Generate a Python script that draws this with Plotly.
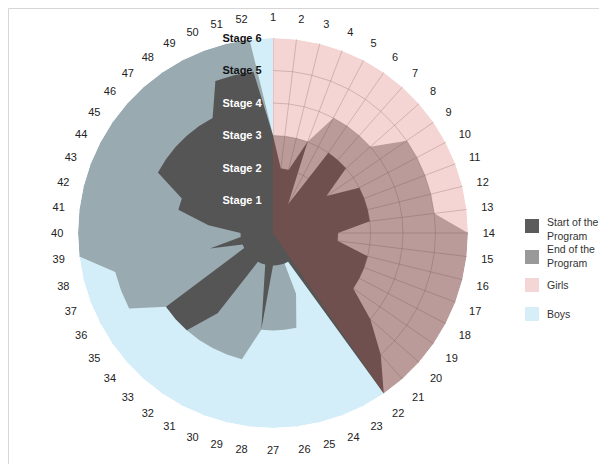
import plotly.graph_objects as go

categories = [str(i) for i in range(1, 53)]

# Stage reached by each participant (1..52)
start_program = [3, 2, 2, 3, 1, 3, 3, 3, 2, 3, 3, 3, 3, 2, 2, 3, 3, 3, 3, 4,
                 5, 6, 1, 1, 1, 1, 1, 3, 1, 1, 1, 3, 4, 4, 4, 1, 1, 2, 1, 1,
                 2, 3, 3, 4, 4, 4, 4, 4, 4, 5, 5, 5]
end_program = [3, 3, 3, 3, 4, 4, 4, 4, 5, 5, 5, 5, 5, 6, 6, 6, 6, 6, 6, 6,
               6, 6, 0, 2, 3, 3, 3, 3, 4, 4, 4, 4, 4, 4, 4, 5, 5, 5, 6, 6,
               6, 6, 6, 6, 6, 6, 6, 6, 6, 6, 6, 6]
girls = [6, 6, 6, 6, 6, 6, 6, 6, 6, 6, 6, 6, 6, 6, 6, 6, 6, 6, 6, 6,
         6, 6, 0, 0, 0, 0, 0, 0, 0, 0, 0, 0, 0, 0, 0, 0, 0, 0, 0, 0,
         0, 0, 0, 0, 0, 0, 0, 0, 0, 0, 0, 0]
boys = [6, 0, 0, 0, 0, 0, 0, 0, 0, 0, 0, 0, 0, 0, 0, 0, 0, 0, 0, 0,
        0, 6, 6, 6, 6, 6, 6, 6, 6, 6, 6, 6, 6, 6, 6, 6, 6, 6, 6, 6,
        6, 6, 6, 6, 6, 6, 6, 6, 6, 6, 6, 6]

stage_vals = [1, 2, 3, 4, 5, 6]
stage_text = ["<b>Stage 1</b>", "<b>Stage 2</b>", "<b>Stage 3</b>",
              "<b>Stage 4</b>", "<b>Stage 5</b>", "<b>Stage 6</b>"]
stage_colors = ["white", "white", "white", "white", "#111111", "#111111"]
stage_labels = ['<span style="color:%s">%s</span>' % (c, t) for c, t in zip(stage_colors, stage_text)]

legend_names = ["Start of the<br>Program", "End of the<br>Program", "Girls", "Boys"]
legend_colors = ["#5b5b5b", "#999999", "#f5d6d6", "#d5eef8"]

fig = go.Figure()
fig.add_trace(go.Scatterpolar(r=boys, theta=categories, fill="toself", mode="none", name="Boys",
                              fillcolor="#d3eef8", showlegend=False, hoverinfo="skip"))
fig.add_trace(go.Scatterpolar(r=end_program, theta=categories, fill="toself", mode="none",
                              name="End of the Program",
                              fillcolor="rgba(61,61,61,0.38)", showlegend=False, hoverinfo="skip"))
fig.add_trace(go.Scatterpolar(r=start_program, theta=categories, fill="toself", mode="none",
                              name="Start of the Program",
                              fillcolor="#555555", showlegend=False, hoverinfo="skip"))
fig.add_trace(go.Scatterpolar(r=girls, theta=categories, fill="toself", mode="none", name="Girls",
                              fillcolor="rgba(205,64,55,0.22)", showlegend=False, hoverinfo="skip"))

# Legend drawn as swatches + text (kept inside the right margin)
PX_L, PX_T, PW = 70, 30, 390


def px_x(v):
    return (v - PX_L) / PW


def px_y(v):
    return (PX_T + PW - v) / PW


sw_top = [211, 242, 270, 299]
txt_mid = [220.5, 248, 277, 306]
shapes = []
annotations = []
for name, col, t, m in zip(legend_names, legend_colors, sw_top, txt_mid):
    shapes.append(dict(type="rect", xref="paper", yref="paper",
                       x0=px_x(517), x1=px_x(531), y0=px_y(t + 14), y1=px_y(t),
                       fillcolor=col, line=dict(width=0)))
    annotations.append(dict(text=name, xref="paper", yref="paper", x=px_x(536.5), y=px_y(m),
                            xanchor="left", yanchor="middle", align="left", showarrow=False,
                            font=dict(size=10.5, color="#333333")))

shapes.append(dict(type="line", xref="paper", yref="paper", x0=px_x(0.5), x1=px_x(607),
                   y0=px_y(0.5), y1=px_y(0.5), line=dict(color="#d6d6d6", width=1)))
shapes.append(dict(type="line", xref="paper", yref="paper", x0=px_x(0.5), x1=px_x(0.5),
                   y0=px_y(464), y1=px_y(0.5), line=dict(color="#d6d6d6", width=1)))

grid_col = "rgba(130,130,130,0.36)"
fig.update_layout(
    width=607, height=464,
    margin=dict(l=PX_L, r=607 - PX_L - PW, t=PX_T, b=464 - PX_T - PW),
    paper_bgcolor="white",
    showlegend=False,
    font=dict(family="Liberation Sans, Arial, sans-serif", size=11, color="#222222"),
    polar=dict(
        domain=dict(x=[0, 1], y=[0, 1]),
        gridshape="linear",
        bgcolor="white",
        angularaxis=dict(type="category", categoryarray=categories, rotation=90,
                         direction="clockwise", showgrid=True, gridcolor=grid_col,
                         gridwidth=1, layer="above traces", showline=False,
                         ticks="outside", ticklen=12, tickcolor="rgba(0,0,0,0)",
                         tickfont=dict(size=11, color="#222222")),
        radialaxis=dict(range=[0, 6], tickvals=stage_vals, ticktext=stage_labels,
                        angle=90, tickangle=90, side="counterclockwise",
                        showline=False, ticks="outside", ticklen=7,
                        tickcolor="rgba(0,0,0,0)", gridcolor=grid_col, gridwidth=1,
                        layer="above traces", tickfont=dict(size=11, color="#222222")),
    ),
    shapes=shapes,
    annotations=annotations,
)

fig.write_html("out.html")
